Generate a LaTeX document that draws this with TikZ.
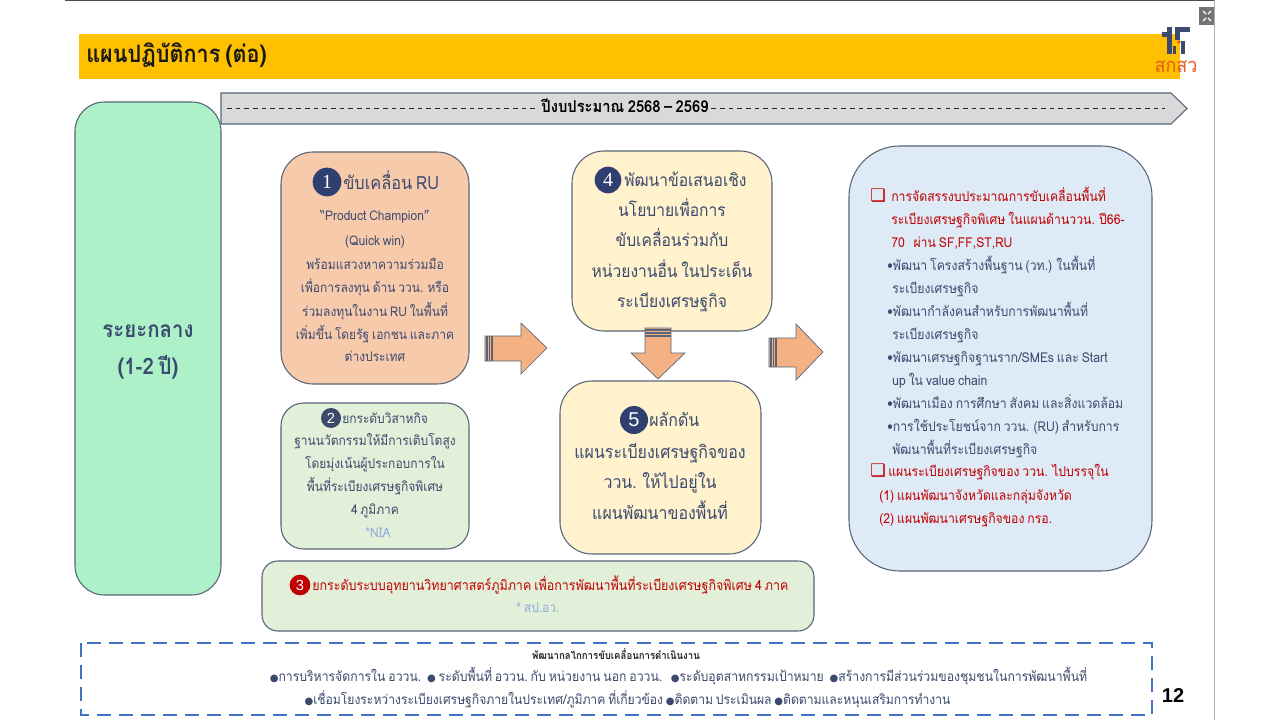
\documentclass[tikz,border=0pt]{standalone}
\usepackage{fontspec}
\setmainfont[Script=Thai,FakeStretch=0.9,WordSpace=0.7]{Loma}
\newfontfamily\djvf{DejaVu Sans}
\newfontfamily\libf{Liberation Sans}
\newfontfamily\serf{Liberation Serif}
\definecolor{navy}{HTML}{3B4A6E}
\definecolor{circ}{HTML}{2F3F70}
\definecolor{redt}{HTML}{C00000}
\definecolor{edgec}{HTML}{56657A}
\definecolor{lightb}{HTML}{8FAADC}
\definecolor{dashc}{HTML}{4472C4}
\definecolor{logor}{HTML}{E85A1E}
\definecolor{arrowf}{HTML}{F4B183}
\newcommand{\fs}[1]{\fontsize{#1}{#1}\selectfont}
\newcommand{\tline}[1]{\rule{0pt}{.75em}\rule[-.25em]{0pt}{.25em}\smash{#1}}
\newcommand{\dotb}{{\djvf\fs{7.5}●}}
\tikzset{
  x=0.75pt,y=-0.75pt,
  boxs/.style={draw=edgec,line width=0.8pt,rounded corners=#1},
  tl/.style={inner sep=0pt,text=navy,anchor=center,yshift=-1pt},
  rl/.style={inner sep=0pt,anchor=west,font=\fs{10.2},yshift=-1pt},
  numc/.style={circle,fill=circ,text=white,inner sep=0pt,minimum size=#1},
  barrow/.style={fill=arrowf,draw=edgec,line width=0.5pt},
  stripe/.style={edgec,line width=0.8pt},
}
\begin{document}
\begin{tikzpicture}
\useasboundingbox (0,0) rectangle (1280,720);
\fill[white] (0,0) rectangle (1280,720);
\draw[line width=1.2pt,black!70] (65,0.5) -- (1215,0.5);
\draw[line width=0.6pt,black!30] (1214.5,0) -- (1214.5,720);
% icon
\fill[black!55] (1199,7) rectangle (1214,25);
\draw[white,line width=1pt] (1203,11)--(1206,14) (1211,11)--(1208,14) (1203,21)--(1206,18) (1211,21)--(1208,18);
% title band
\fill[fill={rgb,255:red,255;green,192;blue,0}] (79,34) rectangle (1180,79);
\node[inner sep=0pt,anchor=west,font=\fs{18}\bfseries,text=black!90,yshift=-0.5pt] (title) at (86,56) {\tline{แผนปฏิบัติการ (ต่อ)}};
% logo
\fill[navy] (1167,27) rectangle (1172,54);
\fill[navy] (1162,32) rectangle (1172,37);
\fill[navy] (1175,27) rectangle (1190,32);
\fill[navy] (1175,27) rectangle (1180,40);
\fill[navy] (1181,41) rectangle (1185,54);
\fill[navy] (1173,46) rectangle (1176,54);
\fill[logor] (1179,42) circle (1.8);
\node[inner sep=0pt,font=\fs{15},text=logor] (logo) at (1176,68) {\tline{สกสว}};
% timeline arrow
\draw[fill={rgb,255:red,217;green,217;blue,217},draw=edgec,line width=0.8pt] (221,93) -- (1171,93) -- (1187,108.5) -- (1171,124) -- (221,124) -- cycle;
\node[inner sep=2pt,font=\fs{12.3}\bfseries,text=black] (year) at (625,108.5) {\tline{ปีงบประมาณ 2568 -- 2569}};
\coordinate (dl) at (227,108.5);
\coordinate (dr) at (1165,108.5);
\draw[black!85,line width=0.6pt,dash pattern=on 3.5pt off 3pt] (dl) -- (year.west);
\draw[black!85,line width=0.6pt,dash pattern=on 3.5pt off 3pt] (year.east) -- (dr);
% left green
\draw[boxs=22pt,fill={rgb,255:red,172;green,241;blue,200}] (75,102) rectangle (221,595);
\node[tl,font=\fs{17}\bfseries] (mid) at (148,330) {\tline{ระยะกลาง}};
\node[tl,font=\fs{17}\bfseries] (mid2) at (148,367) {\tline{(1-2 ปี)}};
% box 1
\draw[boxs=24pt,fill={rgb,255:red,247;green,202;blue,172}] (281,152) rectangle (469,384);
\node[numc=21.5pt,font=\fs{15}\serf] (n1) at (327,182) {1};
\node[tl,anchor=west,font=\fs{13.6}] (b1h) at (343,184) {\tline{ขับเคลื่อน RU}};
\foreach \n/\y/\txt in {a/216/“Product Champion",b/241/(Quick win),c/265/พร้อมแสวงหาความร่วมมือ,d/288/เพื่อการลงทุน ด้าน ววน. หรือ,e/312/ร่วมลงทุนในงาน RU ในพื้นที่,f/335/เพิ่มขึ้น โดยรัฐ เอกชน และภาค,g/357/ต่างประเทศ}
  \node[tl,font=\fs{10}] (b1\n) at (375,\y) {\tline{\txt}};
% box 2
\draw[boxs=17pt,fill={rgb,255:red,226;green,239;blue,217}] (281,403) rectangle (469,549);
\node[numc=15pt,font=\fs{11}\libf,fill={rgb,255:red,59;green,74;blue,104}] (n2) at (331,418) {2};
\node[tl,anchor=west,font=\fs{10}] (b2h) at (342,419) {\tline{ยกระดับวิสาหกิจ}};
\foreach \n/\y/\txt in {a/441/ฐานนวัตกรรมให้มีการเติบโตสูง,b/464/โดยมุ่งเน้นผู้ประกอบการใน,c/487/พื้นที่ระเบียงเศรษฐกิจพิเศษ,d/510/4 ภูมิภาค}
  \node[tl,font=\fs{10}] (b2\n) at (375,\y) {\tline{\txt}};
\node[tl,font=\fs{10},text=lightb] (b2e) at (378,533) {\tline{*NIA}};
% box 3
\draw[boxs=12pt,fill={rgb,255:red,226;green,239;blue,217}] (262,561) rectangle (814,631);
\node[numc=15.5pt,font=\fs{11}\libf,fill=redt] (n3) at (300,585) {3};
\node[tl,anchor=west,font=\fs{10.4},text=redt] (b3h) at (312,586) {\tline{ยกระดับระบบอุทยานวิทยาศาสตร์ภูมิภาค เพื่อการพัฒนาพื้นที่ระเบียงเศรษฐกิจพิเศษ 4 ภาค}};
\node[tl,font=\fs{10},text=lightb] (b3e) at (538,608) {\tline{* สป.อว.}};
% box 4
\draw[boxs=24pt,fill={rgb,255:red,255;green,242;blue,204}] (572,151) rectangle (772,331);
\node[numc=20pt,font=\fs{15}\serf] (n4) at (608,180) {4};
\node[tl,anchor=west,font=\fs{13}] (b4h) at (624,181) {\tline{พัฒนาข้อเสนอเชิง}};
\foreach \n/\y/\txt in {a/211/นโยบายเพื่อการ,b/241/ขับเคลื่อนร่วมกับ,c/272/หน่วยงานอื่น ในประเด็น,d/302/ระเบียงเศรษฐกิจ}
  \node[tl,font=\fs{13}] (b4\n) at (672,\y) {\tline{\txt}};
% box 5
\draw[boxs=24pt,fill={rgb,255:red,255;green,242;blue,204}] (560,381) rectangle (761,554);
\node[numc=21pt,font=\fs{15}\libf] (n5) at (634,420) {5};
\node[tl,anchor=west,font=\fs{13.3}] (b5h) at (649,421) {\tline{ผลักดัน}};
\foreach \n/\y/\txt in {a/453/แผนระเบียงเศรษฐกิจของ,b/483/ววน. ให้ไปอยู่ใน,c/514/แผนพัฒนาของพื้นที่}
  \node[tl,font=\fs{13.3}] (b5\n) at (660,\y) {\tline{\txt}};
% right box
\draw[boxs=38pt,fill={rgb,255:red,222;green,234;blue,246}] (849,146) rectangle (1152,571);
\node[rl,text=redt,font=\fs{13}\djvf,yshift=1pt] (ck1) at (870,196) {❑};
\foreach \n/\x/\y/\cc/\txt in {
 a/891/197/redt/การจัดสรรงบประมาณการขับเคลื่อนพื้นที่,
 b/891/220/redt/ระเบียงเศรษฐกิจพิเศษ ในแผนด้านววน. ปี66-,
 c/891/243/redt/70\ \ \ ผ่าน SF{,}FF{,}ST{,}RU,
 d/887/266/navy/•พัฒนา โครงสร้างพื้นฐาน (วท.) ในพื้นที่,
 e/892/289/navy/ระเบียงเศรษฐกิจ,
 f/887/312/navy/•พัฒนากำลังคนสำหรับการพัฒนาพื้นที่,
 g/892/335/navy/ระเบียงเศรษฐกิจ,
 i/892/381/navy/up ใน value chain,
 j/887/404/navy/•พัฒนาเมือง การศึกษา สังคม และสิ่งแวดล้อม,
 k/887/427/navy/•การใช้ประโยชน์จาก ววน. (RU) สำหรับการ,
 l/892/450/navy/พัฒนาพื้นที่ระเบียงเศรษฐกิจ,
 m/888/472/redt/แผนระเบียงเศรษฐกิจของ ววน. ไปบรรจุใน,
 n/879/496/redt/(1) แผนพัฒนาจังหวัดและกลุ่มจังหวัด,
 o/879/519/redt/(2) แผนพัฒนาเศรษฐกิจของ กรอ.}
  \node[rl,text=\cc] (r\n) at (\x,\y) {\tline{\txt}};
\node[rl,text=navy] (rh) at (887,358) {\tline{•พัฒนาเศรษฐกิจฐานราก/SMEs และ Start}};
\node[rl,text=redt,font=\fs{13}\djvf,yshift=1pt] (ck2) at (870,471) {❑};
% block arrows
\draw[barrow] (485,336) -- (521,336) -- (521,323) -- (547,348) -- (521,374) -- (521,361) -- (485,361) -- cycle;
\draw[stripe] (487,336) -- (487,361) (489.5,336) -- (489.5,361) (492,336) -- (492,361);
\draw[barrow] (769,338) -- (796,338) -- (796,324) -- (823,352) -- (796,380) -- (796,367) -- (769,367) -- cycle;
\draw[stripe] (771,338) -- (771,367) (773.5,338) -- (773.5,367) (776,338) -- (776,367);
\draw[barrow] (645,328) -- (671,328) -- (671,353) -- (685,353) -- (658,379) -- (631,353) -- (645,353) -- cycle;
\draw[stripe] (645,330) -- (671,330) (645,333) -- (671,333) (645,336) -- (671,336);
% bottom
\draw[dashc,line width=1.1pt,dash pattern=on 10.5pt off 6pt] (81,643) rectangle (1152,715);
\node[tl,font=\fs{8}\bfseries,text=black!85] (bt) at (616,655) {\tline{พัฒนากลไกการขับเคลื่อนการดำเนินงาน}};
\node[tl,font=\fs{10.2}] (bl1) at (678.5,677) {\tline{\dotb การบริหารจัดการใน อววน.\ \ \dotb\ ระดับพื้นที่ อววน.\ กับ หน่วยงาน นอก อววน.\ \ \ \dotb ระดับอุตสาหกรรมเป้าหมาย\ \ \dotb สร้างการมีส่วนร่วมของชุมชนในการพัฒนาพื้นที่}};
\node[tl,font=\fs{10.1}] (bl2) at (627.5,700) {\tline{\dotb เชื่อมโยงระหว่างระเบียงเศรษฐกิจภายในประเทศ/ภูมิภาค ที่เกี่ยวข้อง \dotb ติดตาม ประเมินผล \dotb ติดตามและหนุนเสริมการทำงาน}};
\node[inner sep=0pt,font=\fs{15}\libf\bfseries,text=black] (pg) at (1173,696) {12};
\end{tikzpicture}
\end{document}
